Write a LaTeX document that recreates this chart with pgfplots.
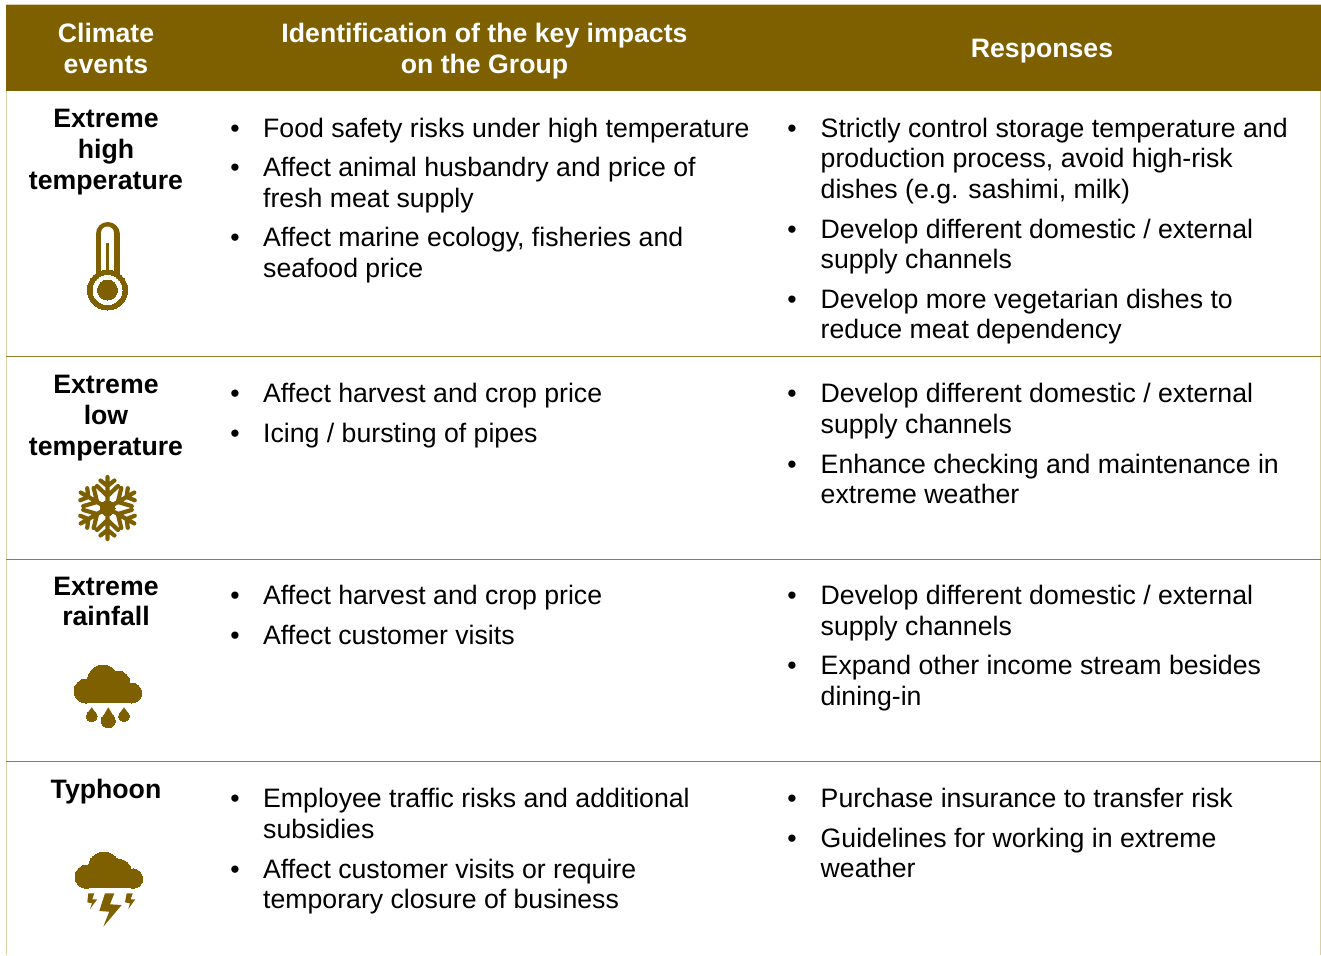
\documentclass[border=0pt]{standalone}
\usepackage{pgfplots}
\pgfplotsset{compat=1.18}
\usepackage{fontspec}
\setmainfont{Liberation Sans}
\definecolor{gold}{HTML}{7F6000}
\definecolor{rule}{HTML}{978026}
\definecolor{edge}{HTML}{D9CFA8}
\newcommand{\T}[3]{\node[anchor=base west,inner sep=0pt,text=black] at (axis cs:#1,#2) {#3};}
\newcommand{\B}[2]{\node[anchor=base,inner sep=0pt,text=black] at (axis cs:#1,#2) {•};}
\newcommand{\C}[2]{\node[anchor=base,inner sep=0pt,text=black,font=\fontsize{26.67}{30}\selectfont\bfseries] at (axis cs:106,#1) {#2};}
\newcommand{\Hd}[3]{\node[anchor=base,inner sep=0pt,text=white,font=\fontsize{26.67}{30}\selectfont\bfseries] at (axis cs:#1,#2) {#3};}
\begin{document}
\begin{tikzpicture}[font=\fontsize{26.67}{30}\selectfont]
\begin{axis}[
  hide axis, scale only axis, width=1321pt, height=955pt,
  xmin=0, xmax=1321, ymin=0, ymax=955, y dir=reverse,
  clip=true,
  dot/.style={only marks, mark=*, mark size=#1, mark options={fill=gold,draw=gold,line width=0pt}, forget plot},
  wdot/.style={only marks, mark=*, mark size=#1, mark options={fill=white,draw=white,line width=0pt}, forget plot},
  poly/.style={fill=gold, draw=none, mark=none, forget plot},
]
% page background, which also fixes the extent of the picture
\addplot[fill=white, draw=none, mark=none, forget plot] coordinates {(0,0) (1321,0) (1321,955) (0,955)} -- cycle;
% frame lines
\addplot[edge, line width=1pt, mark=none, forget plot] coordinates {(6,91) (6,955)};
\addplot[edge, line width=1pt, mark=none, forget plot] coordinates {(1320.5,91) (1320.5,955)};
\addplot[edge, line width=1pt, mark=none, forget plot] coordinates {(6,4.5) (1321,4.5)};
% header band
\addplot[poly] coordinates {(6,5) (1321,5) (1321,91) (6,91)} -- cycle;
% row rules
\addplot[rule, line width=1.2pt, mark=none, forget plot] coordinates {(6,356.4) (1321,356.4)};
\addplot[rule, line width=1.2pt, mark=none, forget plot] coordinates {(6,559.4) (1321,559.4)};
\addplot[rule, line width=1.2pt, mark=none, forget plot] coordinates {(6,761.4) (1321,761.4)};

% thermometer
\addplot[dot=20] coordinates {(107.5,290)};
\addplot[gold, line width=24pt, line cap=round, mark=none, forget plot] coordinates {(107.5,234) (107.5,290)};
\addplot[wdot=14.5] coordinates {(107.5,290)};
\addplot[white, line width=13pt, line cap=round, mark=none, forget plot] coordinates {(107.5,233) (107.5,285)};
\addplot[gold, line width=3.5pt, mark=none, forget plot] coordinates {(107.5,243) (107.5,290)};
\addplot[dot=10] coordinates {(107.5,290)};

% snowflake
\addplot[gold, line width=4.2pt, line cap=round, line join=round, mark=none, forget plot,
  x filter/.code={\pgfmathparse{#1+107.5}}, y filter/.code={\pgfmathparse{#1+508}}] coordinates {
 (0,0) (0,12) (10.5,22) (0,12) (-10.5,22) (0,12) (0,22) (7,27.5) (0,22) (-7,27.5) (0,22) (0,31) (0,0)
 (-10.4,6) (-13.8,20.1) (-10.4,6) (-24.3,1.9) (-10.4,6) (-19.05,11) (-20.3,19.8) (-19.05,11) (-27.3,7.7) (-19.05,11) (-26.8,15.5) (0,0)
 (-10.4,-6) (-24.3,-1.9) (-10.4,-6) (-13.8,-20.1) (-10.4,-6) (-19.05,-11) (-27.3,-7.7) (-19.05,-11) (-20.3,-19.8) (-19.05,-11) (-26.8,-15.5) (0,0)
 (0,-12) (-10.5,-22) (0,-12) (10.5,-22) (0,-12) (0,-22) (-7,-27.5) (0,-22) (7,-27.5) (0,-22) (0,-31) (0,0)
 (10.4,-6) (13.8,-20.1) (10.4,-6) (24.3,-1.9) (10.4,-6) (19.05,-11) (20.3,-19.8) (19.05,-11) (27.3,-7.7) (19.05,-11) (26.8,-15.5) (0,0)
 (10.4,6) (24.3,1.9) (10.4,6) (13.8,20.1) (10.4,6) (19.05,11) (27.3,7.7) (19.05,11) (20.3,19.8) (19.05,11) (26.8,15.5) (0,0)
};
\addplot[dot=7.5] coordinates {(107.5,508)};

% rain cloud
\addplot[dot=12] coordinates {(86,691)};
\addplot[dot=15.5] coordinates {(103,680.5)};
\addplot[dot=12] coordinates {(118,683)};
\addplot[dot=10] coordinates {(131.7,693)};
\addplot[poly] coordinates {(86,703) (132,703) (132,683) (86,683)} -- cycle;
\addplot[dot=5.5] coordinates {(91.7,716.2)};
\addplot[poly] coordinates {(91.7,707.3) (96.6,714) (86.8,714)} -- cycle;
\addplot[dot=7] coordinates {(108.3,720.7)};
\addplot[poly] coordinates {(108.3,707.3) (114.6,718) (102,718)} -- cycle;
\addplot[dot=5.5] coordinates {(124,716.2)};
\addplot[poly] coordinates {(124,707.3) (128.9,714) (119.1,714)} -- cycle;

% storm cloud
\addplot[dot=11.7] coordinates {(86.7,876.7)};
\addplot[dot=15.7] coordinates {(104,867.7)};
\addplot[dot=11.7] coordinates {(119.3,871)};
\addplot[dot=9.7] coordinates {(133,878.6)};
\addplot[poly] coordinates {(86.7,888.3) (133,888.3) (133,870) (86.7,870)} -- cycle;
\addplot[poly] coordinates {(105,893.3) (114.3,893.3) (110,904.3) (121.7,905) (103.3,926.7) (109.3,911.7) (99.3,911)} -- cycle;
\addplot[poly] coordinates {(88.3,893.3) (94.3,893.3) (92.3,899.3) (97.3,899.3) (90,909) (92,903.3) (87.3,902.3)} -- cycle;
\addplot[poly] coordinates {(126.7,893.3) (132.7,893.3) (130.7,899.3) (135.3,899.3) (128.3,909) (130,903.3) (125,902.3)} -- cycle;

% header text
\Hd{106}{43}{Climate}
\Hd{106}{74}{events}
\Hd{484.5}{43}{Identification of the key impacts}
\Hd{484.5}{74}{on the Group}
\Hd{1042}{58}{Responses}

% first column
\C{128}{Extreme}
\C{158}{high}
\C{189}{temperature}
\C{393}{Extreme}
\C{424}{low}
\C{455}{temperature}
\C{595}{Extreme}
\C{625.5}{rainfall}
\C{798}{Typhoon}

% second column
\B{235}{137}\T{263}{137}{Food safety risks under high temperature}
\B{235}{176}\T{263}{176}{Affect animal husbandry and price of}
\T{263}{207}{fresh meat supply}
\B{235}{246}\T{263}{246}{Affect marine ecology, fisheries and}
\T{263}{277}{seafood price}
\B{235}{402}\T{263}{402}{Affect harvest and crop price}
\B{235}{442}\T{263}{442}{Icing / bursting of pipes}
\B{235}{604}\T{263}{604}{Affect harvest and crop price}
\B{235}{644}\T{263}{644}{Affect customer visits}
\B{235}{807}\T{263}{807}{Employee traffic risks and additional}
\T{263}{838}{subsidies}
\B{235}{878}\T{263}{878}{Affect customer visits or require}
\T{263}{908}{temporary closure of business}

% third column
\B{792}{137}\T{820.5}{137}{Strictly control storage temperature and}
\T{820.5}{167}{production process, avoid high-risk}
\T{820.5}{198}{dishes (e.g. sashimi, milk)}
\B{792}{238}\T{820.5}{238}{Develop different domestic / external}
\T{820.5}{268}{supply channels}
\B{792}{308}\T{820.5}{308}{Develop more vegetarian dishes to}
\T{820.5}{338}{reduce meat dependency}
\B{792}{402}\T{820.5}{402}{Develop different domestic / external}
\T{820.5}{433}{supply channels}
\B{792}{473}\T{820.5}{473}{Enhance checking and maintenance in}
\T{820.5}{503}{extreme weather}
\B{792}{604}\T{820.5}{604}{Develop different domestic / external}
\T{820.5}{635}{supply channels}
\B{792}{674}\T{820.5}{674}{Expand other income stream besides}
\T{820.5}{705}{dining-in}
\B{792}{807}\T{820.5}{807}{Purchase insurance to transfer risk}
\B{792}{847}\T{820.5}{847}{Guidelines for working in extreme}
\T{820.5}{877}{weather}
\end{axis}
\end{tikzpicture}
\end{document}
